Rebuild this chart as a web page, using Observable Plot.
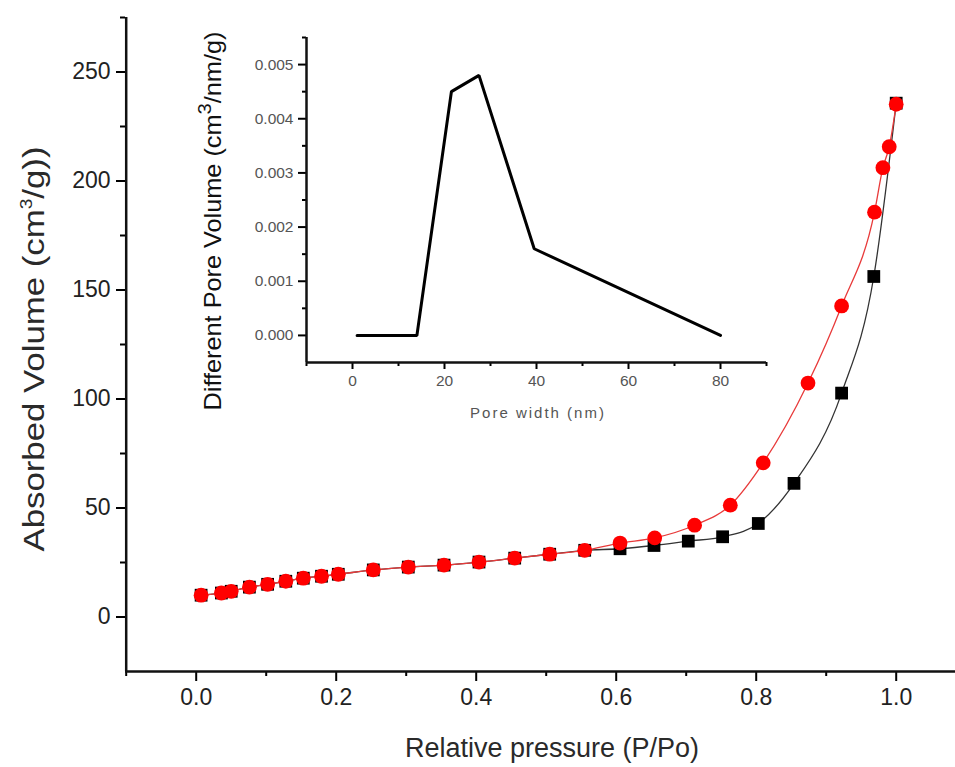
<!DOCTYPE html>
<html><head><meta charset="utf-8">
<script src="https://cdn.jsdelivr.net/npm/d3@7"></script>
<script src="https://cdn.jsdelivr.net/npm/@observablehq/plot@0.6"></script>
<style>
html,body{margin:0;padding:0;background:#fff;}
#wrap{position:relative;width:955px;height:767px;overflow:hidden;font-family:"Liberation Sans",Arial,sans-serif;}
#wrap svg{position:absolute;}
#main g[aria-label$="tick label"]{fill:#222;}
#inset g[aria-label$="tick label"]{fill:#555;}
</style></head><body><div id="wrap"></div>
<script>
// ---- main isotherm data (relative pressure P/Po, absorbed volume cm3/g)
const adsP = [0.007,0.036,0.05,0.076,0.102,0.128,0.153,0.179,0.203,0.253,0.303,0.354,0.404,0.455,0.505,0.555,0.6055,0.654,0.703,0.752,0.803,0.854,0.922,0.968,1.0];
const adsV = [10.0,11.0,11.8,13.7,15.0,16.4,17.8,18.7,19.6,21.6,22.9,23.8,25.2,27.0,28.8,30.6,31.3,32.8,34.8,36.8,42.9,61.3,102.7,156.2,235.7];
const desP = [0.007,0.036,0.05,0.076,0.102,0.128,0.153,0.179,0.203,0.253,0.303,0.354,0.404,0.455,0.505,0.555,0.6055,0.655,0.712,0.763,0.810,0.874,0.922,0.969,0.981,0.990,1.0];
const desV = [10.0,11.0,11.8,13.7,15.0,16.4,17.8,18.7,19.6,21.6,22.9,23.8,25.2,27.0,28.8,30.6,33.9,36.3,42.1,51.3,70.7,107.3,142.7,185.7,206.1,215.7,235.2];
// ---- inset: pore size distribution
const poreWidth = [1, 14, 21.5, 27.5, 39.5, 80];
const poreVolume = [0, 0, 0.0045, 0.0048, 0.0016, 0];
// ---- ticks
const xTicks = [0, 0.2, 0.4, 0.6, 0.8, 1.0];
const xMinor = [-0.1, 0.1, 0.3, 0.5, 0.7, 0.9, 1.1];
const yTicks = [0, 50, 100, 150, 200, 250];
const yMinor = [25, 75, 125, 175, 225, 275];
const inXTicks = [0, 20, 40, 60, 80];
const inXMinor = [-10, 10, 30, 50, 70, 90];
const inYTicks = [0, 0.001, 0.002, 0.003, 0.004, 0.005];
const inYMinor = [0.0005, 0.0015, 0.0025, 0.0035, 0.0045, 0.0055];

const ads = adsP.map((p, i) => ({p, v: adsV[i]}));
const des = desP.map((p, i) => ({p, v: desV[i]}));
const pore = poreWidth.map((w, i) => ({w, v: poreVolume[i]}));

const font = "Liberation Sans, Arial, sans-serif";
const wrap = document.getElementById("wrap");

const main = Plot.plot({
  width: 955, height: 767,
  marginLeft: 125, marginRight: 0, marginTop: 17, marginBottom: 96,
  style: {fontFamily: font, background: "transparent", overflow: "visible"},
  x: {domain: [-0.1, 1.1], range: [125.7, 965.7]},
  y: {domain: [-25, 275]},
  marks: [
    Plot.axisX(xTicks, {tickSize: 10, tickPadding: 7, fontSize: 23, strokeWidth: 2, tickFormat: d => d.toFixed(1), label: null}),
    Plot.axisX(xMinor, {tickSize: 5, strokeWidth: 2, fill: "none", label: null}),
    Plot.axisY(yTicks, {tickSize: 9, tickPadding: 6, fontSize: 23, strokeWidth: 2, label: null}),
    Plot.axisY(yMinor, {tickSize: 5, strokeWidth: 2, fill: "none", label: null}),
    Plot.ruleX([-0.1], {strokeWidth: 2.5, stroke: "#111"}),
    Plot.ruleY([-25], {strokeWidth: 2.5, stroke: "#111"}),
    Plot.line(ads, {x: "p", y: "v", curve: "monotone-x", stroke: "#333", strokeWidth: 1.3}),
    Plot.dot(ads, {x: "p", y: "v", symbol: "square", r: 7.2, fill: "#000"}),
    Plot.line(des, {x: "p", y: "v", curve: "monotone-x", stroke: "#e83a3a", strokeWidth: 1.3}),
    Plot.dot(des, {x: "p", y: "v", symbol: "circle", r: 7.4, fill: "#ff0000"})
  ]
});
main.id = "main";
main.style.left = "0px"; main.style.top = "0px";
wrap.appendChild(main);

const inset = Plot.plot({
  width: 600, height: 400,
  marginLeft: 126, marginRight: 14, marginTop: 17, marginBottom: 58,
  style: {fontFamily: font, background: "transparent", overflow: "visible"},
  x: {domain: [-10, 90]},
  y: {domain: [-0.0005, 0.0055]},
  marks: [
    Plot.axisX(inXTicks, {tickSize: 7, tickPadding: 5, fontSize: 15.5, strokeWidth: 2, label: null}),
    Plot.axisX(inXMinor, {tickSize: 4, strokeWidth: 2, fill: "none", label: null}),
    Plot.axisY(inYTicks, {tickSize: 8, tickPadding: 5, fontSize: 15.5, strokeWidth: 2, tickFormat: d3.format(".3f"), label: null}),
    Plot.axisY(inYMinor, {tickSize: 4, strokeWidth: 2, fill: "none", label: null}),
    Plot.ruleX([-10], {strokeWidth: 2.5, stroke: "#111"}),
    Plot.ruleY([-0.0005], {strokeWidth: 2.5, stroke: "#111"}),
    Plot.line(pore, {x: "w", y: "v", stroke: "#000", strokeWidth: 3, strokeLinejoin: "miter"})
  ]
});
inset.id = "inset";
inset.style.left = "180px"; inset.style.top = "20px";
wrap.appendChild(inset);

function title(svg, {x, y, rotate = 0, sx = 1, sy = 1, size, fill, parts, spacing = 0}) {
  const t = d3.select(svg).append("text")
    .attr("transform", `translate(${x},${y}) rotate(${rotate}) scale(${sx},${sy})`)
    .attr("text-anchor", "middle")
    .attr("dy", "0.35em")
    .attr("font-family", font)
    .attr("font-size", size)
    .attr("fill", fill)
    .attr("letter-spacing", spacing);
  let shift = 0;
  for (const p of parts) {
    const s = t.append("tspan").text(p.text);
    if (p.sup) {
      const fs = size * p.sup;
      const up = size * 0.42;
      s.attr("font-size", fs).attr("dy", -up);
      shift = up;
    } else if (shift) {
      s.attr("dy", shift);
      shift = 0;
    }
  }
}
title(main, {x: 34, y: 349, rotate: -90, sx: 1.2, size: 29, fill: "#2a2a2a",
  parts: [{text: "Absorbed Volume (cm"}, {text: "3", sup: 0.55}, {text: "/g))"}]});
title(main, {x: 552, y: 748, size: 27, fill: "#2a2a2a", parts: [{text: "Relative pressure (P/Po)"}]});
title(inset, {x: 33, y: 201, rotate: -90, sx: 1.1, size: 23, fill: "#111",
  parts: [{text: "Different Pore Volume (cm"}, {text: "3", sup: 0.8}, {text: "/nm/g)"}]});
title(inset, {x: 358, y: 393, size: 15, fill: "#555", spacing: 2, parts: [{text: "Pore width (nm)"}]});
</script></body></html>
